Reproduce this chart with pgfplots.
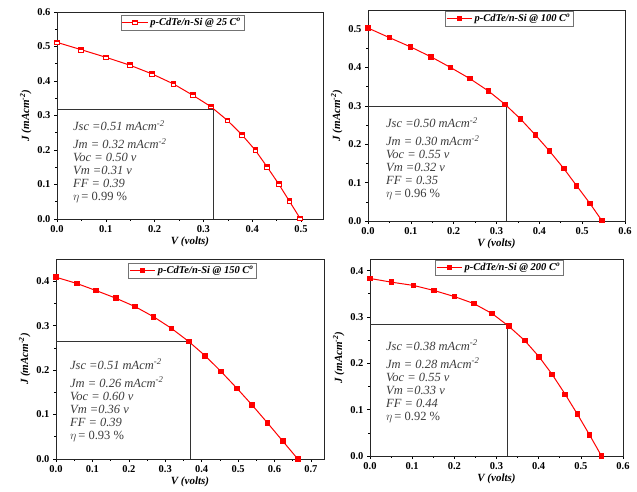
\documentclass[border=0pt]{standalone}
\usepackage{fontspec}
\setmainfont{Liberation Serif}
\usepackage{pgfplots}
\pgfplotsset{compat=1.18}

\definecolor{anno}{RGB}{60,60,60}

\pgfdeclareplotmark{halfsq}{%
  \pgfsetfillcolor{white}%
  \pgfpathrectangle{\pgfqpoint{-\pgfplotmarksize}{-\pgfplotmarksize}}{\pgfqpoint{2\pgfplotmarksize}{2\pgfplotmarksize}}%
  \pgfusepathqfill
  \pgfsetfillcolor{red}%
  \pgfpathrectangle{\pgfqpoint{-\pgfplotmarksize}{0pt}}{\pgfqpoint{2\pgfplotmarksize}{\pgfplotmarksize}}%
  \pgfusepathqfill
  \pgfpathrectangle{\pgfqpoint{-\pgfplotmarksize}{-\pgfplotmarksize}}{\pgfqpoint{2\pgfplotmarksize}{2\pgfplotmarksize}}%
  \pgfusepathqstroke
}

\tikzset{anno/.style={anchor=north west, align=left, font=\itshape\fontsize{12.5}{13}\selectfont, text=anno, inner sep=0pt}}

\pgfplotsset{
  ivstyle/.style={
    scale only axis,
    axis line style={line width=0.8pt, black!85},
    tick align=outside,
    xtick pos=left, ytick pos=left,
    minor tick num=1,
    major tick length=3pt, minor tick length=1.8pt,
    every tick/.style={black, line width=0.6pt},
    /pgf/number format/assume math mode=true,
    xticklabel style={/pgf/number format/fixed, /pgf/number format/fixed zerofill, /pgf/number format/precision=1},
    yticklabel style={/pgf/number format/fixed, /pgf/number format/fixed zerofill, /pgf/number format/precision=1},
    tick label style={font=\bfseries\fontsize{10.5}{10.5}\selectfont},
    label style={font=\bfseries\itshape\fontsize{11}{11}\selectfont},
    xlabel={V (volts)},
    ylabel={J (mAcm\textsuperscript{-2})},
    xlabel style={yshift=3pt},
    ylabel style={yshift=-1pt},
    legend style={draw=black!55, line width=0.5pt, font=\bfseries\itshape\fontsize{10.5}{11}\selectfont, inner sep=1pt, outer sep=0pt, anchor=north west},
    legend cell align=left,
    legend image code/.code={\draw[mark repeat=2,mark phase=2] plot coordinates {(0cm,0cm) (0.45cm,0cm) (0.9cm,0cm)};},
    ivline/.style={red, line width=1pt, mark=square*, mark size=2.3pt, mark options={solid, fill=red, draw=red}},
    refline/.style={black!80, line width=0.7pt, forget plot},
  },
}

\begin{document}
\begin{tikzpicture}
\useasboundingbox (0,0) rectangle (637pt,491pt);

% Panel 1: 25 C
\begin{axis}[ivstyle, at={(57pt,272pt)}, anchor=south west, width=266pt, height=207pt,
  xmin=0, xmax=0.545, ymin=0, ymax=0.6, xtick={0,0.1,...,0.5}, ytick={0,0.1,...,0.6},
  legend style={at={(0.24,1)}, yshift=-3pt}]
\addplot[refline] coordinates {(0,0.317) (0.321,0.317) (0.321,0)};
\addplot[ivline, mark=halfsq, mark options={solid, draw=red, line width=0.7pt}] coordinates {
(0,0.512) (0.049,0.491) (0.0996,0.469) (0.149,0.446) (0.194,0.421) (0.238,0.392)
(0.278,0.359) (0.315,0.326) (0.349,0.286) (0.379,0.244) (0.406,0.200) (0.430,0.152)
(0.454,0.102) (0.476,0.052) (0.498,0.002)};
\addlegendentry{p-CdTe/n-Si @ 25 C\textsuperscript{o}}
\node[anno] at (rel axis cs:0.06,0.478) {Jsc =0.51 mAcm\textsuperscript{-2}\\[5pt]Jm = 0.32 mAcm\textsuperscript{-2}\\Voc = 0.50 v\\Vm =0.31 v\\FF = 0.39\\$\eta$\,{\upshape = 0.99 \%}};
\end{axis}

% Panel 2: 100 C
\begin{axis}[ivstyle, at={(368pt,270pt)}, anchor=south west, width=257pt, height=211pt,
  xmin=0, xmax=0.6, ymin=0, ymax=0.55, xtick={0,0.1,...,0.6}, ytick={0,0.1,...,0.5},
  legend style={at={(0.30,1)}, yshift=-1pt}]
\addplot[refline] coordinates {(0,0.299) (0.322,0.299) (0.322,0)};
\addplot[ivline] coordinates {
(0,0.503) (0.05,0.478) (0.099,0.454) (0.147,0.428) (0.193,0.400) (0.238,0.371)
(0.281,0.339) (0.320,0.304) (0.356,0.266) (0.391,0.224) (0.424,0.182) (0.457,0.137)
(0.487,0.092) (0.518,0.046) (0.546,0.001)};
\addlegendentry{p-CdTe/n-Si @ 100 C\textsuperscript{o}}
\node[anno] at (rel axis cs:0.07,0.49) {Jsc =0.50 mAcm\textsuperscript{-2}\\[5pt]Jm = 0.30 mAcm\textsuperscript{-2}\\Voc = 0.55 v\\Vm =0.32 v\\FF = 0.35\\$\eta$\,{\upshape = 0.96 \%}};
\end{axis}

% Panel 3: 150 C
\begin{axis}[ivstyle, at={(56pt,32pt)}, anchor=south west, width=268pt, height=200pt,
  xmin=0, xmax=0.736, ymin=0, ymax=0.45, xtick={0,0.1,...,0.7}, ytick={0,0.1,...,0.4},
  legend style={at={(0.27,1)}, yshift=-4pt}]
\addplot[refline] coordinates {(0,0.264) (0.368,0.264) (0.368,0)};
\addplot[ivline] coordinates {
(0.0,0.409) (0.057,0.395) (0.110,0.379) (0.164,0.362) (0.217,0.343) (0.268,0.320)
(0.317,0.294) (0.365,0.264) (0.410,0.232) (0.453,0.197) (0.497,0.159) (0.539,0.121)
(0.581,0.081) (0.623,0.040) (0.664,0.0)};
\addlegendentry{p-CdTe/n-Si @ 150 C\textsuperscript{o}}
\node[anno] at (rel axis cs:0.052,0.50) {Jsc =0.51 mAcm\textsuperscript{-2}\\[5pt]Jm = 0.26 mAcm\textsuperscript{-2}\\Voc = 0.60 v\\Vm =0.36 v\\FF = 0.39\\$\eta$\,{\upshape = 0.93 \%}};
\end{axis}

% Panel 4: 200 C
\begin{axis}[ivstyle, at={(370pt,35pt)}, anchor=south west, width=253pt, height=197pt,
  xmin=0, xmax=0.6, ymin=0, ymax=0.425, xtick={0,0.1,...,0.6}, ytick={0,0.1,...,0.4},
  legend style={at={(0.257,1)}, yshift=-1pt}]
\addplot[refline] coordinates {(0,0.284) (0.325,0.284) (0.325,0)};
\addplot[ivline] coordinates {
(0.0,0.383) (0.051,0.375) (0.103,0.368) (0.152,0.357) (0.200,0.344) (0.246,0.329)
(0.290,0.307) (0.329,0.280) (0.367,0.249) (0.401,0.214) (0.432,0.176) (0.463,0.133)
(0.492,0.090) (0.521,0.045) (0.549,0.0)};
\addlegendentry{p-CdTe/n-Si @ 200 C\textsuperscript{o}}
\node[anno] at (rel axis cs:0.063,0.59) {Jsc =0.38 mAcm\textsuperscript{-2}\\[5pt]Jm = 0.28 mAcm\textsuperscript{-2}\\Voc = 0.55 v\\Vm =0.33 v\\FF = 0.44\\$\eta$\,{\upshape = 0.92 \%}};
\end{axis}
\end{tikzpicture}
\end{document}
